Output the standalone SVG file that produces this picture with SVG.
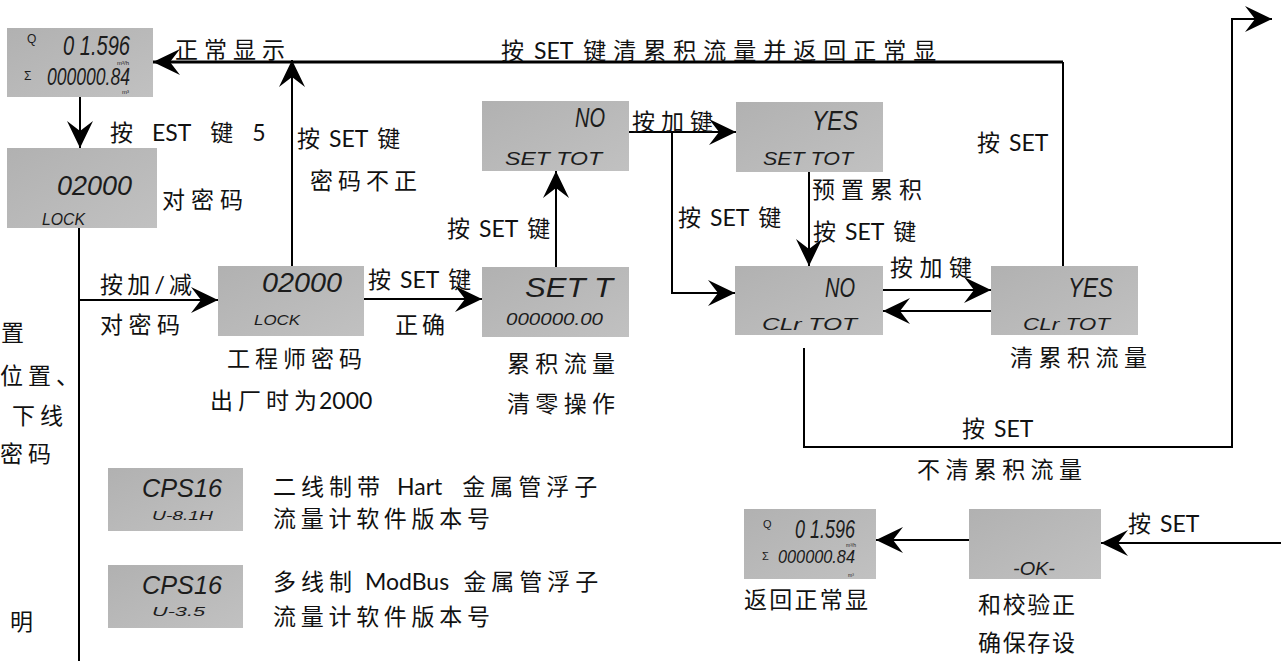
<svg xmlns="http://www.w3.org/2000/svg" width="1281" height="661" viewBox="0 0 1281 661">
<defs>
<linearGradient id="lcd" x1="0" y1="0" x2="1" y2="1"><stop offset="0" stop-color="#b1b1b1"/><stop offset="1" stop-color="#c1c1c1"/></linearGradient>
<marker id="ah" viewBox="-28 -15 30 30" markerWidth="30" markerHeight="30" refX="0" refY="0" orient="auto" markerUnits="userSpaceOnUse"><path d="M0,0 L-27,-13 L-17,0 L-27,13 Z" fill="#000"/></marker>
<style>
.lcd{fill:url(#lcd)}
.seg{font-family:"Liberation Sans Narrow","Liberation Sans",sans-serif;font-style:italic;fill:#1c1c1c}
.sm{font-family:"Liberation Sans",sans-serif;fill:#1c1c1c}
.t{font-family:Lato,"Noto Sans CJK SC",sans-serif;font-size:23px;fill:#111}
.k{letter-spacing:5px}
.l{letter-spacing:0}
.c{fill:none;stroke:#000;stroke-width:2}
.a{marker-end:url(#ah)}
</style>
</defs>
<rect width="1281" height="661" fill="#fff"/>

<g id="connectors">
<path class="c a" d="M80,97 V148"/>
<path class="c" d="M79,228 V661"/>
<path class="c a" d="M79,300 H218"/>
<path class="c a" d="M292,266 V60"/>
<path class="c a" style="stroke-width:3" d="M1063,62 H153"/>
<path class="c" d="M1063,62 V266"/>
<path class="c a" d="M364,299 H482"/>
<path class="c a" d="M556,267 V171"/>
<path class="c a" d="M629,132 H736"/>
<path class="c a" d="M672,132 V293 H735"/>
<path class="c a" d="M809,172 V266"/>
<path class="c a" d="M883,290 H991"/>
<path class="c a" d="M991,311 H883"/>
<path class="c a" d="M804,348 V447 H1232 V19 H1272"/>
<path class="c a" d="M1281,543 H1101"/>
<path class="c a" d="M969,540 H876"/>
</g>

<g id="n-normal">
<rect class="lcd" x="7" y="28" width="146" height="69"/>
<text class="sm" x="27" y="43" font-size="12">Q</text>
<text class="seg" x="63" y="55" font-size="27" textLength="67" lengthAdjust="spacingAndGlyphs">0 1.596</text>
<text class="sm" x="117" y="65" font-size="6">m³/h</text>
<text class="sm" x="24" y="80" font-size="12">Σ</text>
<text class="seg" x="47" y="85" font-size="23" textLength="83" lengthAdjust="spacingAndGlyphs">000000.84</text>
<text class="sm" x="122" y="94" font-size="6">m³</text>
</g>

<g id="n-lock">
<rect class="lcd" x="7" y="148" width="150" height="80"/>
<text class="seg" x="57" y="195" font-size="28" textLength="75" lengthAdjust="spacingAndGlyphs">02000</text>
<text class="seg" x="42" y="225" font-size="17" textLength="43" lengthAdjust="spacingAndGlyphs">LOCK</text>
</g>

<g id="n-eng">
<rect class="lcd" x="218" y="266" width="146" height="70"/>
<text class="seg" x="262" y="292" font-size="27" textLength="80" lengthAdjust="spacingAndGlyphs">02000</text>
<text class="seg" x="254" y="325" font-size="15" textLength="46" lengthAdjust="spacingAndGlyphs">LOCK</text>
</g>

<g id="n-sett">
<rect class="lcd" x="482" y="267" width="147" height="70"/>
<text class="seg" x="525" y="297" font-size="28" textLength="88" lengthAdjust="spacingAndGlyphs">SET T</text>
<text class="seg" x="506" y="325" font-size="16" textLength="97" lengthAdjust="spacingAndGlyphs">000000.00</text>
</g>

<g id="n-noser">
<rect class="lcd" x="482" y="101" width="147" height="70"/>
<text class="seg" x="575" y="127" font-size="27" textLength="30" lengthAdjust="spacingAndGlyphs">NO</text>
<text class="seg" x="505" y="165" font-size="18" textLength="97" lengthAdjust="spacingAndGlyphs">SET TOT</text>
</g>

<g id="n-yesser">
<rect class="lcd" x="736" y="102" width="147" height="70"/>
<text class="seg" x="812" y="130" font-size="27" textLength="46" lengthAdjust="spacingAndGlyphs">YES</text>
<text class="seg" x="763" y="165" font-size="18" textLength="90" lengthAdjust="spacingAndGlyphs">SET TOT</text>
</g>

<g id="n-noclr">
<rect class="lcd" x="735" y="266" width="148" height="69"/>
<text class="seg" x="825" y="297" font-size="27" textLength="30" lengthAdjust="spacingAndGlyphs">NO</text>
<text class="seg" x="762" y="330" font-size="17" textLength="95" lengthAdjust="spacingAndGlyphs">CLr TOT</text>
</g>

<g id="n-yesclr">
<rect class="lcd" x="991" y="266" width="147" height="69"/>
<text class="seg" x="1068" y="297" font-size="27" textLength="45" lengthAdjust="spacingAndGlyphs">YES</text>
<text class="seg" x="1023" y="330" font-size="17" textLength="87" lengthAdjust="spacingAndGlyphs">CLr TOT</text>
</g>

<g id="n-normal2">
<rect class="lcd" x="744" y="509" width="132" height="70"/>
<text class="sm" x="763" y="528" font-size="11">Q</text>
<text class="seg" x="795" y="538" font-size="25" textLength="60" lengthAdjust="spacingAndGlyphs">0 1.596</text>
<text class="sm" x="846" y="547" font-size="5">m³/h</text>
<text class="sm" x="762" y="560" font-size="11">Σ</text>
<text class="seg" x="778" y="563" font-size="19" textLength="77" lengthAdjust="spacingAndGlyphs">000000.84</text>
<text class="sm" x="848" y="577" font-size="5">m³</text>
</g>

<g id="n-ok">
<rect class="lcd" x="969" y="509" width="132" height="70"/>
<text class="seg" x="1013" y="575" font-size="18" textLength="42" lengthAdjust="spacingAndGlyphs">-OK-</text>
</g>

<g id="n-cps1">
<rect class="lcd" x="108" y="468" width="135" height="63"/>
<text class="seg" x="142" y="497" font-size="25" textLength="80" lengthAdjust="spacingAndGlyphs">CPS16</text>
<text class="seg" x="152" y="520" font-size="13" textLength="61" lengthAdjust="spacingAndGlyphs">U-8.1H</text>
</g>

<g id="n-cps2">
<rect class="lcd" x="108" y="565" width="135" height="63"/>
<text class="seg" x="142" y="594" font-size="25" textLength="80" lengthAdjust="spacingAndGlyphs">CPS16</text>
<text class="seg" x="152" y="616" font-size="13" textLength="53" lengthAdjust="spacingAndGlyphs">U-3.5</text>
</g>

<g id="labels">
<text class="t" x="175" y="58" textLength="110">正常显示</text>
<text class="t" x="501" y="59" style="letter-spacing:7px">按<tspan class="l" dx="3">SET</tspan><tspan dx="10">键清累积流量并返回正常显</tspan></text>
<text class="t" x="110" y="141">按<tspan dx="19">EST</tspan><tspan dx="19">键</tspan><tspan dx="19">5</tspan></text>
<text class="t" x="162" y="208" textLength="81">对密码</text>
<text class="t" x="297" y="147">按<tspan dx="9">SET</tspan><tspan dx="9">键</tspan></text>
<text class="t" x="310" y="189" textLength="107">密码不正</text>
<text class="t" x="100" y="293" textLength="92">按加/减</text>
<text class="t" x="100" y="333" textLength="80">对密码</text>
<text class="t" x="227" y="367" textLength="135">工程师密码</text>
<text class="t" x="210" y="409"><tspan class="k">出厂时为</tspan><tspan class="l" dx="-3">2000</tspan></text>
<text class="t" x="368" y="288">按<tspan dx="9">SET</tspan><tspan dx="9">键</tspan></text>
<text class="t" x="395" y="333" textLength="50">正确</text>
<text class="t" x="447" y="237">按<tspan dx="9">SET</tspan><tspan dx="9">键</tspan></text>
<text class="t" x="507" y="372" textLength="108">累积流量</text>
<text class="t" x="507" y="412" textLength="108">清零操作</text>
<text class="t" x="632" y="130" textLength="81">按加键</text>
<text class="t" x="678" y="226">按<tspan dx="9">SET</tspan><tspan dx="9">键</tspan></text>
<text class="t" x="812" y="198" textLength="110">预置累积</text>
<text class="t" x="813" y="240">按<tspan dx="9">SET</tspan><tspan dx="9">键</tspan></text>
<text class="t" x="977" y="151">按<tspan dx="9">SET</tspan></text>
<text class="t" x="890" y="276" textLength="82">按加键</text>
<text class="t" x="1010" y="366" textLength="137">清累积流量</text>
<text class="t" x="962" y="437">按<tspan dx="9">SET</tspan></text>
<text class="t" x="917" y="478" textLength="165">不清累积流量</text>
<text class="t" x="1128" y="532">按<tspan dx="9">SET</tspan></text>
<text class="t" x="744" y="608" textLength="124">返回正常显</text>
<text class="t" x="978" y="613" textLength="97">和校验正</text>
<text class="t" x="978" y="651" textLength="97">确保存设</text>
<text class="t" x="273" y="495"><tspan class="k">二线制带</tspan><tspan class="l" dx="12">Hart</tspan><tspan class="k" dx="20">金属管浮子</tspan></text>
<text class="t" x="273" y="527" textLength="217">流量计软件版本号</text>
<text class="t" x="273" y="590"><tspan class="k">多线制</tspan><tspan class="l" dx="8">ModBus</tspan><tspan class="k" dx="14">金属管浮子</tspan></text>
<text class="t" x="273" y="625" textLength="217">流量计软件版本号</text>
<text class="t" x="1" y="341">置</text>
<text class="t k" x="0" y="384">位置、</text>
<text class="t k" x="12" y="424">下线</text>
<text class="t k" x="0" y="462">密码</text>
<text class="t" x="10" y="630">明</text>
</g>
</svg>
